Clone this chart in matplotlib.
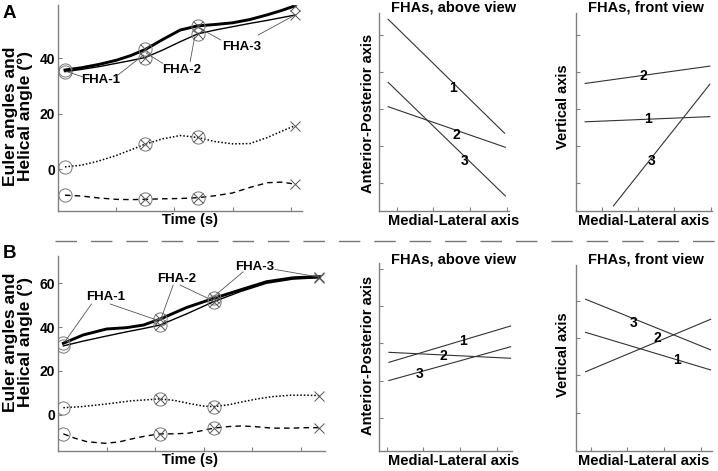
import numpy as np
import matplotlib
matplotlib.use("Agg")
import matplotlib.pyplot as plt
from matplotlib.lines import Line2D

plt.rcParams['font.family'] = ['Liberation Sans', 'DejaVu Sans']
plt.rcParams['font.weight'] = 'bold'

W, H = 718, 471

# ── Panel A, angle curves (time in arbitrary units, angle in degrees) ─────────
a_t_thick = [0.12, 0.4, 0.7, 1.0, 1.25, 1.5, 1.8, 2.1, 2.4, 2.7, 3.0, 3.3, 3.6, 3.85, 4.07]
a_thick   = [35.8, 36.6, 37.8, 39.3, 41.0, 43.2, 46.8, 50.2, 51.7, 52.2, 52.8, 54.0, 55.7, 57.3, 58.9]
a_t_thin  = [0.12, 0.4, 0.7, 1.0, 1.25, 1.5, 1.8, 2.1, 2.4, 2.7, 3.0, 3.3, 3.6, 3.85, 4.07]
a_thin    = [35.2, 36.0, 37.0, 38.2, 39.2, 40.3, 43.0, 46.0, 48.8, 50.2, 51.4, 52.6, 53.7, 54.7, 55.6]
a_t_dot   = [0.12, 0.4, 0.7, 1.0, 1.25, 1.5, 1.8, 2.1, 2.4, 2.7, 3.0, 3.3, 3.6, 3.85, 4.07]
a_dot     = [0.9, 1.5, 3.0, 5.0, 7.0, 9.1, 11.0, 12.2, 11.5, 10.0, 9.2, 9.3, 11.5, 13.8, 15.7]
a_t_dash  = [0.12, 0.4, 0.7, 1.0, 1.25, 1.5, 1.8, 2.1, 2.4, 2.7, 3.0, 3.3, 3.6, 3.85, 4.07]
a_dash    = [-9.3, -9.6, -10.3, -10.8, -10.9, -10.8, -10.6, -10.5, -10.2, -9.5, -8.5, -6.5, -4.8, -4.6, -5.3]
a_marks   = [0.12, 1.5, 2.4, 4.07]

# ── Panel B, angle curves ─────────────────────────────────────────────────────
b_t_thick = [0.11, 0.52, 1.0, 1.41, 1.76, 2.1, 2.65, 3.2, 3.74, 4.29, 4.84, 5.38]
b_thick   = [32.6, 36.4, 39.1, 39.7, 40.9, 43.6, 48.9, 53.0, 56.8, 60.6, 62.4, 62.9]
b_t_thin  = [0.11, 0.52, 1.0, 1.41, 1.76, 2.1, 2.65, 3.2, 3.74, 4.29, 4.84, 5.38]
b_thin    = [31.4, 33.6, 35.9, 37.8, 39.3, 40.9, 46.0, 51.5, 56.0, 59.9, 61.8, 62.4]
b_t_dot   = [0.11, 0.5, 1.0, 1.5, 2.1, 2.4, 2.7, 3.0, 3.2, 3.5, 3.8, 4.1, 4.4, 4.8, 5.1, 5.38]
b_dot     = [3.3, 3.8, 5.0, 6.4, 7.3, 6.6, 5.2, 4.0, 3.8, 4.6, 6.0, 7.3, 8.3, 9.0, 9.0, 8.8]
b_t_dash  = [0.11, 0.35, 0.6, 0.97, 1.25, 1.52, 1.8, 2.1, 2.4, 2.68, 2.95, 3.2, 3.5, 3.78, 4.1, 4.4, 4.8, 5.1, 5.38]
b_dash    = [-8.6, -10.6, -12.2, -12.9, -12.3, -10.9, -9.6, -8.6, -8.6, -8.3, -7.2, -6.0, -5.3, -5.0, -5.4, -6.0, -6.0, -5.8, -5.8]
b_marks   = [0.11, 2.1, 3.2, 5.38]

# ── FHA projections: (x0, y0, x1, y1) per axis 1..3, label positions ──────────
a_above_lines = {"1": (0.77, 5.43, 3.93, 2.34), "2": (0.77, 3.06, 3.95, 1.96), "3": (0.77, 3.72, 3.95, 0.64)}
a_above_lbl   = {"1": (2.53, 3.56), "2": (2.63, 2.29), "3": (2.85, 1.60)}
a_front_lines = {"1": (0.54, 2.65, 3.98, 2.79), "2": (0.54, 3.69, 3.98, 4.16), "3": (1.32, 0.37, 3.98, 3.67)}
a_front_lbl   = {"1": (2.28, 2.73), "2": (2.15, 3.89), "3": (2.38, 1.59)}
b_above_lines = {"1": (1.06, 2.49, 4.38, 3.47), "2": (1.06, 2.76, 4.38, 2.60), "3": (1.06, 2.00, 4.38, 2.91)}
b_above_lbl   = {"1": (3.07, 3.07), "2": (2.54, 2.66), "3": (1.89, 2.17)}
b_front_lines = {"1": (0.86, 3.16, 4.26, 2.15), "2": (0.86, 2.10, 4.26, 3.51), "3": (0.86, 4.05, 4.26, 2.69)}
b_front_lbl   = {"1": (3.35, 2.41), "2": (2.81, 3.02), "3": (2.16, 3.42)}

# FHA leader annotations: label -> (text pos, [(start, target), ...])
a_notes = {
    "FHA-1": ((0.74, 32.3), [((0.43, 33.3), (0.14, 35.3)), ((0.98, 33.2), (1.47, 41.2))]),
    "FHA-2": ((2.13, 35.8), [((1.80, 38.2), (1.52, 41.8)), ((2.27, 38.8), (2.35, 47.8))]),
    "FHA-3": ((3.16, 44.2), [((2.80, 46.6), (2.42, 51.0)), ((3.44, 48.4), (4.07, 55.6))]),
}
b_notes = {
    "FHA-1": ((0.97, 53.8), [((0.69, 50.5), (0.14, 33.3)), ((1.07, 50.5), (2.03, 43.2))]),
    "FHA-2": ((2.44, 61.8), [((2.37, 59.1), (2.13, 44.4)), ((2.51, 59.1), (3.09, 53.0))]),
    "FHA-3": ((4.05, 67.1), [((3.81, 65.1), (3.20, 53.8)), ((4.46, 66.2), (5.32, 62.9))]),
}

fig = plt.figure(figsize=(W / 100, H / 100), dpi=100)


def px_axes(l, t, r, b):
    return fig.add_axes([l / W, 1 - b / H, (r - l) / W, (b - t) / H])


def style_axes(ax):
    for s in ("top", "right"):
        ax.spines[s].set_visible(False)
    for s in ("left", "bottom"):
        ax.spines[s].set_color("#808080")
        ax.spines[s].set_linewidth(1.0)
    ax.tick_params(direction="in", length=3, width=0.8, color="#808080",
                   labelsize=10, pad=2)


def angle_panel(ax, series, marks, notes, xlim, ylim, yticks):
    styles = [dict(lw=2.1, ls="-"), dict(lw=1.0, ls="-"),
              dict(lw=1.1, ls=(0, (1, 1.3))), dict(lw=1.0, ls=(0, (4, 3)))]
    for (t, v), st in zip(series, styles):
        t = np.array(t); v = np.array(v)
        ax.plot(t, v, color="black", **st)
        idx = np.where(np.isin(t, marks))[0]
        ax.plot(t[idx[:-1]], v[idx[:-1]], ls="none", marker="o", ms=9.5,
                mfc="none", mec="#777777", mew=0.7)
        ax.plot(t[idx[1:]], v[idx[1:]], ls="none", marker="x", ms=7,
                mec="#555555", mew=0.7)
    for label, (tp, legs) in notes.items():
        ax.text(tp[0], tp[1], label, ha="center", va="center", fontsize=9.5,
                fontweight="bold")
        for start, target in legs:
            ax.annotate("", xy=target, xytext=start,
                        arrowprops=dict(arrowstyle="-", color="#555555", lw=0.6,
                                        shrinkA=0, shrinkB=0))
    ax.set_xlim(*xlim)
    ax.set_ylim(*ylim)
    ax.set_yticks(yticks)
    ax.set_yticklabels([str(y) for y in yticks], fontweight="bold")
    ax.set_xticks(np.arange(1, int(xlim[1]) + 1))
    ax.set_xticklabels([])
    style_axes(ax)


def fha_panel(ax, lines, lbls, xlim, ylim, xticks, yticks):
    for k, (x0, y0, x1, y1) in lines.items():
        ax.plot([x0, x1], [y0, y1], color="#333333", lw=0.8)
        ax.text(lbls[k][0], lbls[k][1], k, ha="center", va="center",
                fontsize=10, fontweight="bold")
    ax.set_xlim(*xlim)
    ax.set_ylim(*ylim)
    ax.set_xticks(xticks)
    ax.set_yticks(yticks)
    ax.set_xticklabels([])
    ax.set_yticklabels([])
    style_axes(ax)


# ── Panel A ───────────────────────────────────────────────────────────────────
ax = px_axes(58, 4.5, 302.4, 211)
angle_panel(ax, [(a_t_thick, a_thick), (a_t_thin, a_thin), (a_t_dot, a_dot), (a_t_dash, a_dash)],
            a_marks, a_notes, (0, 4.2), (-15.0, 59.4), [0, 20, 40])

ax = px_axes(379.3, 13, 509, 210.7)
fha_panel(ax, a_above_lines, a_above_lbl, (0.53, 4.05), (0.24, 5.6), [1, 2, 3, 4], [1, 2, 3, 4, 5])

ax = px_axes(575.7, 13, 711.7, 210.7)
fha_panel(ax, a_front_lines, a_front_lbl, (0.28, 4.03), (0.24, 5.6), [1, 2, 3, 4], [1, 2, 3, 4, 5])

# ── Panel B ───────────────────────────────────────────────────────────────────
ax = px_axes(58, 256, 325.3, 451)
angle_panel(ax, [(b_t_thick, b_thick), (b_t_thin, b_thin), (b_t_dot, b_dot), (b_t_dash, b_dash)],
            b_marks, b_notes, (0, 5.5), (-16.4, 72.3), [0, 20, 40, 60])

ax = px_axes(379, 263.3, 511.7, 451)
fha_panel(ax, b_above_lines, b_above_lbl, (0.79, 4.41), (0.10, 5.16), [1, 2, 3, 4], [1, 2, 3, 4, 5])

ax = px_axes(576, 265, 711.7, 451)
fha_panel(ax, b_front_lines, b_front_lbl, (0.60, 4.29), (-0.03, 4.97), [1, 2, 3, 4], [1, 2, 3, 4])

# ── Figure-level text ─────────────────────────────────────────────────────────
def ftext(x, y, s, **kw):
    fig.text(x / W, 1 - y / H, s, ha="center", va="center", fontweight="bold", **kw)

for yc in (116, 342):
    ftext(10.8, yc, "Euler angles and", fontsize=12.5, rotation=90)
    ftext(25.5, yc, "Helical angle (°)", fontsize=12.5, rotation=90)
for yc in (220, 460):
    ftext(190, yc, "Time (s)", fontsize=10.5)
    ftext(453.3, yc + 1, "Medial-Lateral axis", fontsize=10.5)
    ftext(644, yc + 1, "Medial-Lateral axis", fontsize=10.5)
ftext(368.3, 113, "Anterior-Posterior axis", fontsize=10.5, rotation=90)
ftext(368.3, 355, "Anterior-Posterior axis", fontsize=10.5, rotation=90)
ftext(563.3, 107, "Vertical axis", fontsize=10.5, rotation=90)
ftext(563.3, 355, "Vertical axis", fontsize=10.5, rotation=90)
ftext(453.3, 7, "FHAs, above view", fontsize=10.5)
ftext(645.7, 7, "FHAs, front view", fontsize=10.5)
ftext(453.7, 259, "FHAs, above view", fontsize=10.5)
ftext(645.7, 259, "FHAs, front view", fontsize=10.5)
ftext(9, 14, "A", fontsize=13.5)
ftext(9, 254, "B", fontsize=13.5)

# dashed separator between panels
fig.add_artist(Line2D([55 / W, 1.0], [1 - 241 / H] * 2, transform=fig.transFigure,
                      color="#777777", lw=1.0, dashes=(15.5, 10)))

fig.savefig("out.png", dpi=100)
